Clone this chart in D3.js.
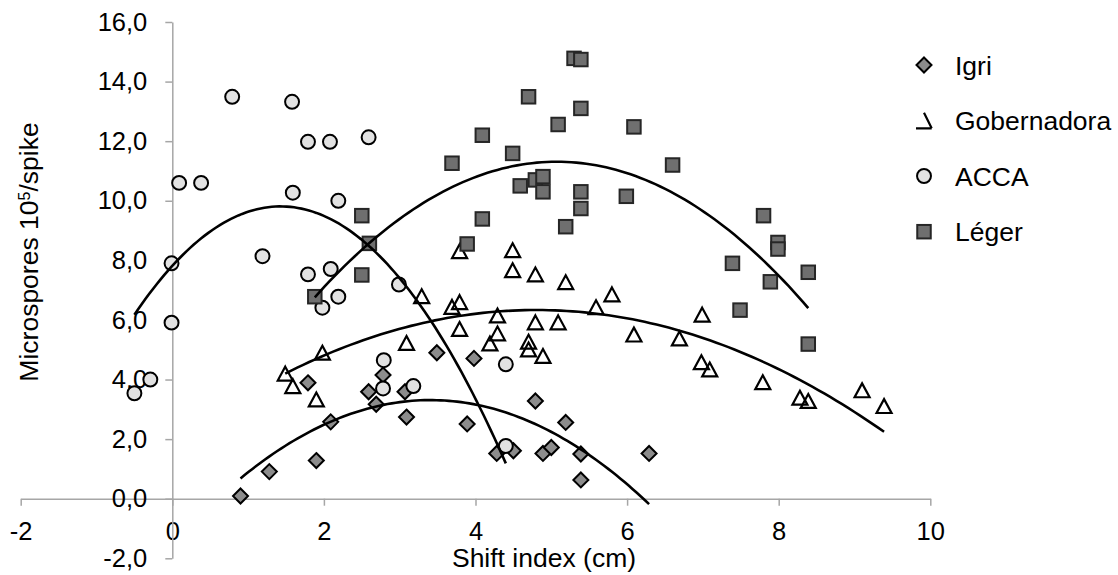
<!DOCTYPE html>
<html>
<head>
<meta charset="utf-8">
<script src="https://cdn.jsdelivr.net/npm/d3@7"></script>
<style>
  html, body { margin: 0; padding: 0; background: #fff; }
  svg { display: block; font-family: "Liberation Sans", Arial, sans-serif; }
</style>
</head>
<body>
<svg id="chart" width="1118" height="575"></svg>
<script>
// Shift index (cm) vs microspores (10^5 per spike), one array pair per cultivar
const igriX = [0.90, 1.28, 1.79, 1.90, 2.09, 2.59, 2.69, 2.78, 3.07, 3.09, 3.49, 3.89, 3.98, 4.28, 4.50, 4.79, 4.89, 5.00, 5.19, 5.39, 5.39, 6.29];
const igriY = [0.09, 0.91, 3.89, 1.28, 2.58, 3.59, 3.17, 4.15, 3.59, 2.74, 4.90, 2.51, 4.71, 1.52, 1.61, 3.28, 1.52, 1.72, 2.56, 1.50, 0.63, 1.52];

const gobX = [1.49, 1.59, 1.90, 1.98, 3.09, 3.29, 3.69, 3.79, 3.79, 3.79, 4.19, 4.29, 4.29, 4.49, 4.49, 4.70, 4.70, 4.79, 4.79, 4.89, 5.09, 5.19, 5.59, 5.80, 6.09, 6.69, 6.99, 6.98, 7.09, 7.79, 8.28, 8.39, 9.10, 9.39];
const gobY = [4.18, 3.76, 3.31, 4.88, 5.21, 6.78, 6.42, 6.58, 8.29, 5.68, 5.19, 6.13, 5.53, 8.32, 7.65, 5.25, 4.99, 7.51, 5.90, 4.77, 5.90, 7.25, 6.41, 6.84, 5.49, 5.36, 6.16, 4.56, 4.32, 3.89, 3.37, 3.26, 3.62, 3.09];

const accaX = [-0.50, -0.29, -0.01, -0.01, 0.09, 0.38, 0.79, 1.19, 1.58, 1.59, 1.79, 1.79, 1.98, 2.08, 2.09, 2.19, 2.19, 2.59, 2.99, 2.79, 2.78, 3.18, 4.40, 4.40];
const accaY = [3.54, 4.00, 5.91, 7.90, 10.60, 10.60, 13.49, 8.14, 13.32, 10.27, 11.98, 7.53, 6.41, 11.98, 7.71, 10.00, 6.78, 12.13, 7.19, 4.65, 3.70, 3.78, 4.51, 1.77];

const legerX = [1.88, 2.50, 2.50, 2.60, 3.69, 3.89, 4.09, 4.09, 4.49, 4.59, 4.79, 4.89, 4.89, 4.70, 5.09, 5.19, 5.30, 5.39, 5.39, 5.39, 5.39, 5.99, 6.09, 6.60, 7.39, 7.49, 7.80, 7.89, 7.99, 7.99, 8.39, 8.39];
const legerY = [6.78, 9.50, 7.51, 8.57, 11.26, 8.55, 12.20, 9.39, 11.59, 10.50, 10.70, 10.81, 10.30, 13.49, 12.56, 9.13, 14.78, 14.74, 13.10, 10.30, 9.74, 10.15, 12.48, 11.20, 7.90, 6.33, 9.50, 7.28, 8.60, 8.38, 7.60, 5.19];

// polynomial (order 2) trendline coefficients [c0, c1, c2] for y = c0 + c1*x + c2*x^2
const igriTrend = [-1.550, 2.855, -0.4193];
const gobTrend = [1.850, 1.8666, -0.1943];
const accaTrend = [7.816, 2.792, -0.977];
const legerTrend = [-0.1754, 4.5281, -0.4463];

const seriesNames = ["Igri", "Gobernadora", "ACCA", "Léger"];
const xTicks = [-2, 0, 2, 4, 6, 8, 10];
const yTicks = [-2, 0, 2, 4, 6, 8, 10, 12, 14, 16];

const svg = d3.select("#chart");
const x = d3.scaleLinear().domain([-2, 10]).range([20.7, 930.3]);
const y = d3.scaleLinear().domain([-2, 16]).range([558.3, 22]);

// plain hyphen for negatives, decimal comma
const fmtX = v => String(v);
const fmtY = v => v.toFixed(1).replace(".", ",");

// axes crossing at the origin
const gx = svg.append("g").attr("transform", `translate(0,${y(0)})`)
  .call(d3.axisBottom(x).tickValues(xTicks).tickSize(7).tickSizeOuter(0).tickPadding(16).tickFormat(fmtX));
const gy = svg.append("g").attr("transform", `translate(${x(0)},0)`)
  .call(d3.axisLeft(y).tickValues(yTicks).tickSize(7).tickSizeOuter(0).tickPadding(18).tickFormat(fmtY));
[gx, gy].forEach(g => {
  g.selectAll("path, line").attr("stroke", "#a6a6a6").attr("stroke-width", 1.5);
  g.selectAll("text").attr("fill", "#000").style("font-size", "25.5px").style("font-family", "Liberation Sans, Arial, sans-serif");
});

// axis titles
svg.append("text").attr("x", 544).attr("y", 567).attr("text-anchor", "middle")
  .style("font-size", "26.5px").text("Shift index (cm)");
const yt = svg.append("text").attr("transform", "translate(38,252) rotate(-90)")
  .attr("text-anchor", "middle").style("font-size", "26.5px");
yt.append("tspan").text("Microspores 10");
yt.append("tspan").attr("baseline-shift", "super").style("font-size", "16px").text("5");
yt.append("tspan").text("/spike");

// marker shapes
const markers = {
  "Igri": (g, s) => g.append("path").attr("d", `M0,${-s}L${s},0L0,${s}L${-s},0Z`)
      .attr("fill", "#8c8c8c").attr("stroke", "#000").attr("stroke-width", 2),
  "Gobernadora": (g, s) => g.append("path").attr("d", `M0,${-s}L${s},${s * 0.85}L${-s},${s * 0.85}Z`)
      .attr("fill", "none").attr("stroke", "#000").attr("stroke-width", 2.2),
  "ACCA": (g, s) => g.append("circle").attr("r", s * 0.93)
      .attr("fill", "#e2e2e2").attr("stroke", "#000").attr("stroke-width", 2),
  "Léger": (g, s) => g.append("rect").attr("x", -s * 0.9).attr("y", -s * 0.9).attr("width", s * 1.8).attr("height", s * 1.8)
      .attr("fill", "#6f6f6f").attr("stroke", "#262626").attr("stroke-width", 2)
};

const data = [
  { name: "Igri", xs: igriX, ys: igriY, trend: igriTrend },
  { name: "Gobernadora", xs: gobX, ys: gobY, trend: gobTrend },
  { name: "ACCA", xs: accaX, ys: accaY, trend: accaTrend },
  { name: "Léger", xs: legerX, ys: legerY, trend: legerTrend }
];

const plot = svg.append("g");
data.forEach(s => {
  s.xs.forEach((xv, i) => {
    const g = plot.append("g").attr("transform", `translate(${x(xv)},${y(s.ys[i])})`);
    markers[s.name](g, 7.5);
  });
});

// trendlines drawn over each series' x range
const line = d3.line().x(d => x(d[0])).y(d => y(d[1]));
data.forEach(s => {
  const [c0, c1, c2] = s.trend;
  const [lo, hi] = d3.extent(s.xs);
  const pts = d3.range(0, 101).map(i => {
    const xv = lo + (hi - lo) * i / 100;
    return [xv, c0 + c1 * xv + c2 * xv * xv];
  });
  svg.append("path").attr("d", line(pts)).attr("fill", "none")
    .attr("stroke", "#000").attr("stroke-width", 2.6);
});

// legend
const legendY = [65, 120.5, 176, 231.7];
seriesNames.forEach((name, i) => {
  const g = svg.append("g").attr("transform", `translate(924,${legendY[i]})`);
  if (name === "Gobernadora") {
    g.append("path").attr("d", "M-8,7.8L7.7,7.8M0,-7.8L7.7,7.8")
      .attr("fill", "none").attr("stroke", "#000").attr("stroke-width", 2.2);
  } else {
    markers[name](g, 7.5);
  }
  svg.append("text").attr("x", 955).attr("y", legendY[i]).attr("dy", "0.36em")
    .style("font-size", "26.5px").text(name);
});
</script>
</body>
</html>
